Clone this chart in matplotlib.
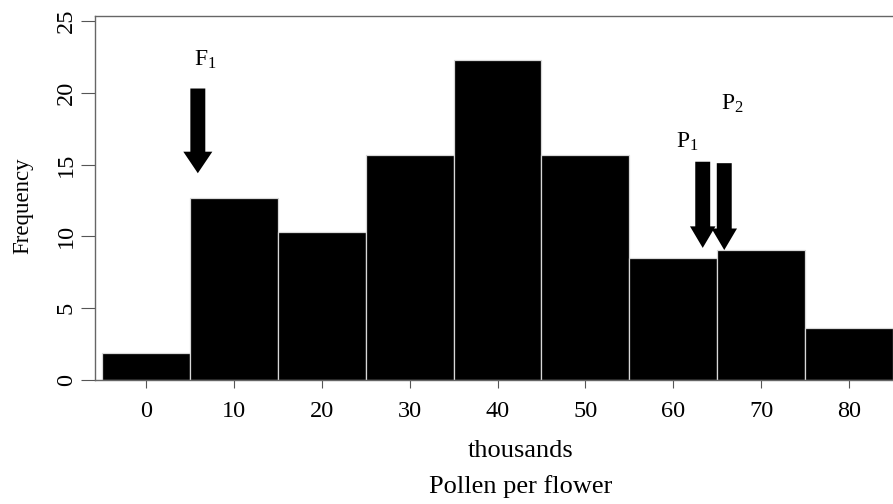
import matplotlib
matplotlib.use("Agg")
import matplotlib.pyplot as plt

# Pollen per flower (thousands), bin centres and counts
bin_centres = [0, 10, 20, 30, 40, 50, 60, 70, 80]
counts = [1.85, 12.67, 10.28, 15.67, 22.28, 15.67, 8.5, 9.05, 3.65]
bin_width = 10

# parent / F1 means marked with arrows: (label, x, arrow top, arrow tip, label x, label y)
markers = [
    ("F_1", 5.9, 20.3, 14.4, 6.7, 22.3),
    ("P_1", 63.35, 15.2, 9.2, 61.6, 16.6),
    ("P_2", 65.8, 15.1, 9.05, 66.7, 19.2),
]
x_ticks = [0, 10, 20, 30, 40, 50, 60, 70, 80]
y_ticks = [0, 5, 10, 15, 20, 25]

plt.rcParams["font.family"] = ["Liberation Serif", "DejaVu Serif"]
plt.rcParams["mathtext.fontset"] = "custom"
plt.rcParams["mathtext.rm"] = "Liberation Serif"

fig = plt.figure(figsize=(8.93, 5.04), dpi=100)
ax = fig.add_axes([95 / 893, 124 / 504, 1 - 95 / 893, 364 / 504])

ax.bar(bin_centres, counts, width=bin_width, color="black",
       edgecolor="#d8d8d8", linewidth=0.9, align="center")

for label, x, top, tip, lx, ly in markers:
    head_w = 3.3 if label == "F_1" else 2.9
    ax.arrow(x, top, 0, tip - top, width=1.7, head_width=head_w,
             head_length=1.5, length_includes_head=True,
             color="black", linewidth=0)
    ax.text(lx, ly, "$\\mathrm{%s}$" % label, ha="center", va="center",
            fontsize=17)

ax.set_xlim(-5.8, 85)
ax.set_ylim(0, 25.35)
ax.set_xticks(x_ticks)
ax.set_yticks(y_ticks)
ax.tick_params(axis="x", labelsize=17.5, length=6, color="#555555", pad=9)
ax.tick_params(axis="y", labelsize=17.5, length=10, color="#555555",
               labelrotation=90, pad=3)
for lab in ax.get_yticklabels():
    lab.set_verticalalignment("center")

for side in ("left", "top", "bottom"):
    ax.spines[side].set_color("#666666")
    ax.spines[side].set_linewidth(1.0)
ax.spines["right"].set_visible(False)

ax.set_ylabel("Frequency", fontsize=16.5)
ax.yaxis.set_label_coords(-62 / 798, (380 - 206) / 364)

label_x = 521 / 893
fig.text(label_x, (504 - 457) / 504, "thousands", ha="center",
         va="baseline", fontsize=19)
fig.text(label_x, (504 - 493) / 504, "Pollen per flower", ha="center",
         va="baseline", fontsize=19)

fig.savefig("out.png", dpi=100)
